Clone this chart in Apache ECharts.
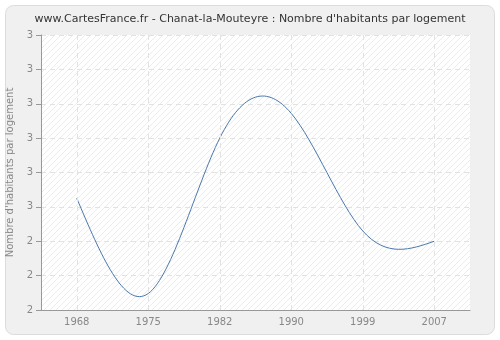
<!DOCTYPE html>
<html><head><meta charset="utf-8">
<script src="https://cdn.jsdelivr.net/npm/echarts@6/dist/echarts.min.js"></script>
<style>html,body{margin:0;padding:0;background:#fff}#c{width:500px;height:340px}</style>
</head><body><div id="c"></div>
<script>
var years = ['1968','1975','1982','1990','1999','2007'];
var values = [2.525, 2.248, 2.700, 2.772, 2.430, 2.400];
var yMin = 2.2, yMax = 3.0, yStep = 0.1;

var pc = document.createElement('canvas');
pc.width = 6; pc.height = 6;
var g = pc.getContext('2d');
g.fillStyle = '#ffffff'; g.fillRect(0,0,6,6);
g.strokeStyle = '#ececec'; g.lineWidth = 1;
g.beginPath(); g.moveTo(0,6); g.lineTo(6,0); g.moveTo(-3,3); g.lineTo(3,-3); g.moveTo(3,9); g.lineTo(9,3); g.stroke();

// natural cubic spline through the data points, in pixel space from the axis scales
function splinePath(api) {
  var pts = values.map(function(v, i){ return api.coord([i, v]); });
  var n = pts.length - 1;
  var h = pts[1][0] - pts[0][0];
  var y = pts.map(function(p){return p[1];});
  var M = new Array(n+1).fill(0);
  var a = [], b = [], c = [], d = [];
  for (var i = 1; i < n; i++) {
    a.push(1); b.push(4); c.push(1);
    d.push(6 * (y[i+1] - 2*y[i] + y[i-1]) / (h*h));
  }
  var m = d.length;
  for (var k = 1; k < m; k++) {
    var w = a[k] / b[k-1];
    b[k] -= w * c[k-1];
    d[k] -= w * d[k-1];
  }
  var sol = new Array(m);
  sol[m-1] = d[m-1] / b[m-1];
  for (k = m-2; k >= 0; k--) sol[k] = (d[k] - c[k]*sol[k+1]) / b[k];
  for (k = 0; k < m; k++) M[k+1] = sol[k];
  var der = [];
  for (i = 0; i < n; i++) der.push((y[i+1]-y[i])/h - h*(2*M[i] + M[i+1])/6);
  der.push((y[n]-y[n-1])/h + h*(M[n-1] + 2*M[n])/6);
  var s = 'M' + pts[0][0] + ' ' + pts[0][1];
  for (i = 0; i < n; i++) {
    var x0 = pts[i][0], x1 = pts[i+1][0];
    var hh = (x1 - x0) / 3;
    s += ' C' + (x0+hh) + ' ' + (y[i] + der[i]*hh) + ' ' + (x1-hh) + ' ' + (y[i+1] - der[i+1]*hh) + ' ' + x1 + ' ' + y[i+1];
  }
  return s;
}

var chart = echarts.init(document.getElementById('c'), null, {renderer:'canvas'});
chart.setOption({
  animation: false,
  backgroundColor: '#ffffff',
  graphic: [{type:'rect', z:-10, shape:{x:5.5,y:5.5,width:489,height:329,r:8}, style:{fill:'#f0f0f0', stroke:'#dcdcdc', lineWidth:1}}],
  title: {text:"www.CartesFrance.fr - Chanat-la-Mouteyre : Nombre d'habitants par logement", left:'center', top:9,
    textStyle:{fontFamily:'DejaVu Sans', fontSize:11, fontWeight:'normal', color:'#333'}},
  grid: {left:41, top:35, width:429, height:275, outerBoundsMode:'none', containLabel:false, show:true, backgroundColor:{image:pc, repeat:'repeat'}, borderColor:'#e0e0e0', borderWidth:0},
  xAxis: {type:'category', data:years, boundaryGap:true,
    axisLine:{lineStyle:{color:'#999'}},
    axisTick:{alignWithLabel:true, length:5, lineStyle:{color:'#999'}},
    axisLabel:{color:'#888', fontFamily:'DejaVu Sans', fontSize:10, margin:7},
    splitLine:{show:false}},
  yAxis: {type:'value', min:yMin, max:yMax, interval:yStep,
    name:"Nombre d'habitants par logement", nameLocation:'middle', nameGap:24,
    nameTextStyle:{color:'#888', fontFamily:'DejaVu Sans', fontSize:10},
    axisLine:{show:true, lineStyle:{color:'#999'}},
    axisTick:{show:true, length:5, lineStyle:{color:'#999'}},
    axisLabel:{color:'#888', fontFamily:'DejaVu Sans', fontSize:10, margin:8, formatter:function(v){return String(Math.round(v+1e-9));}},
    splitLine:{show:true, lineStyle:{color:'#e2e2e2', type:[5,4]}}},
  series: [
    {type:'line', data:[], z:1, silent:true,
      markLine:{silent:true, symbol:'none', label:{show:false}, animation:false,
        lineStyle:{color:'#e2e2e2', type:[5,4], width:1},
        data: years.map(function(y){return {xAxis:y};})}},
    {type:'custom', z:3, silent:true,
      data: values.map(function(v, i){ return [i, v]; }),
      encode:{x:0, y:1},
      renderItem: function(params, api){
        if (params.dataIndex !== 0) return null;
        return {type:'path', shape:{pathData: splinePath(api)},
          style:{fill:null, stroke:'#4a78ad', lineWidth:1}};
      }}]
});
</script></body></html>
